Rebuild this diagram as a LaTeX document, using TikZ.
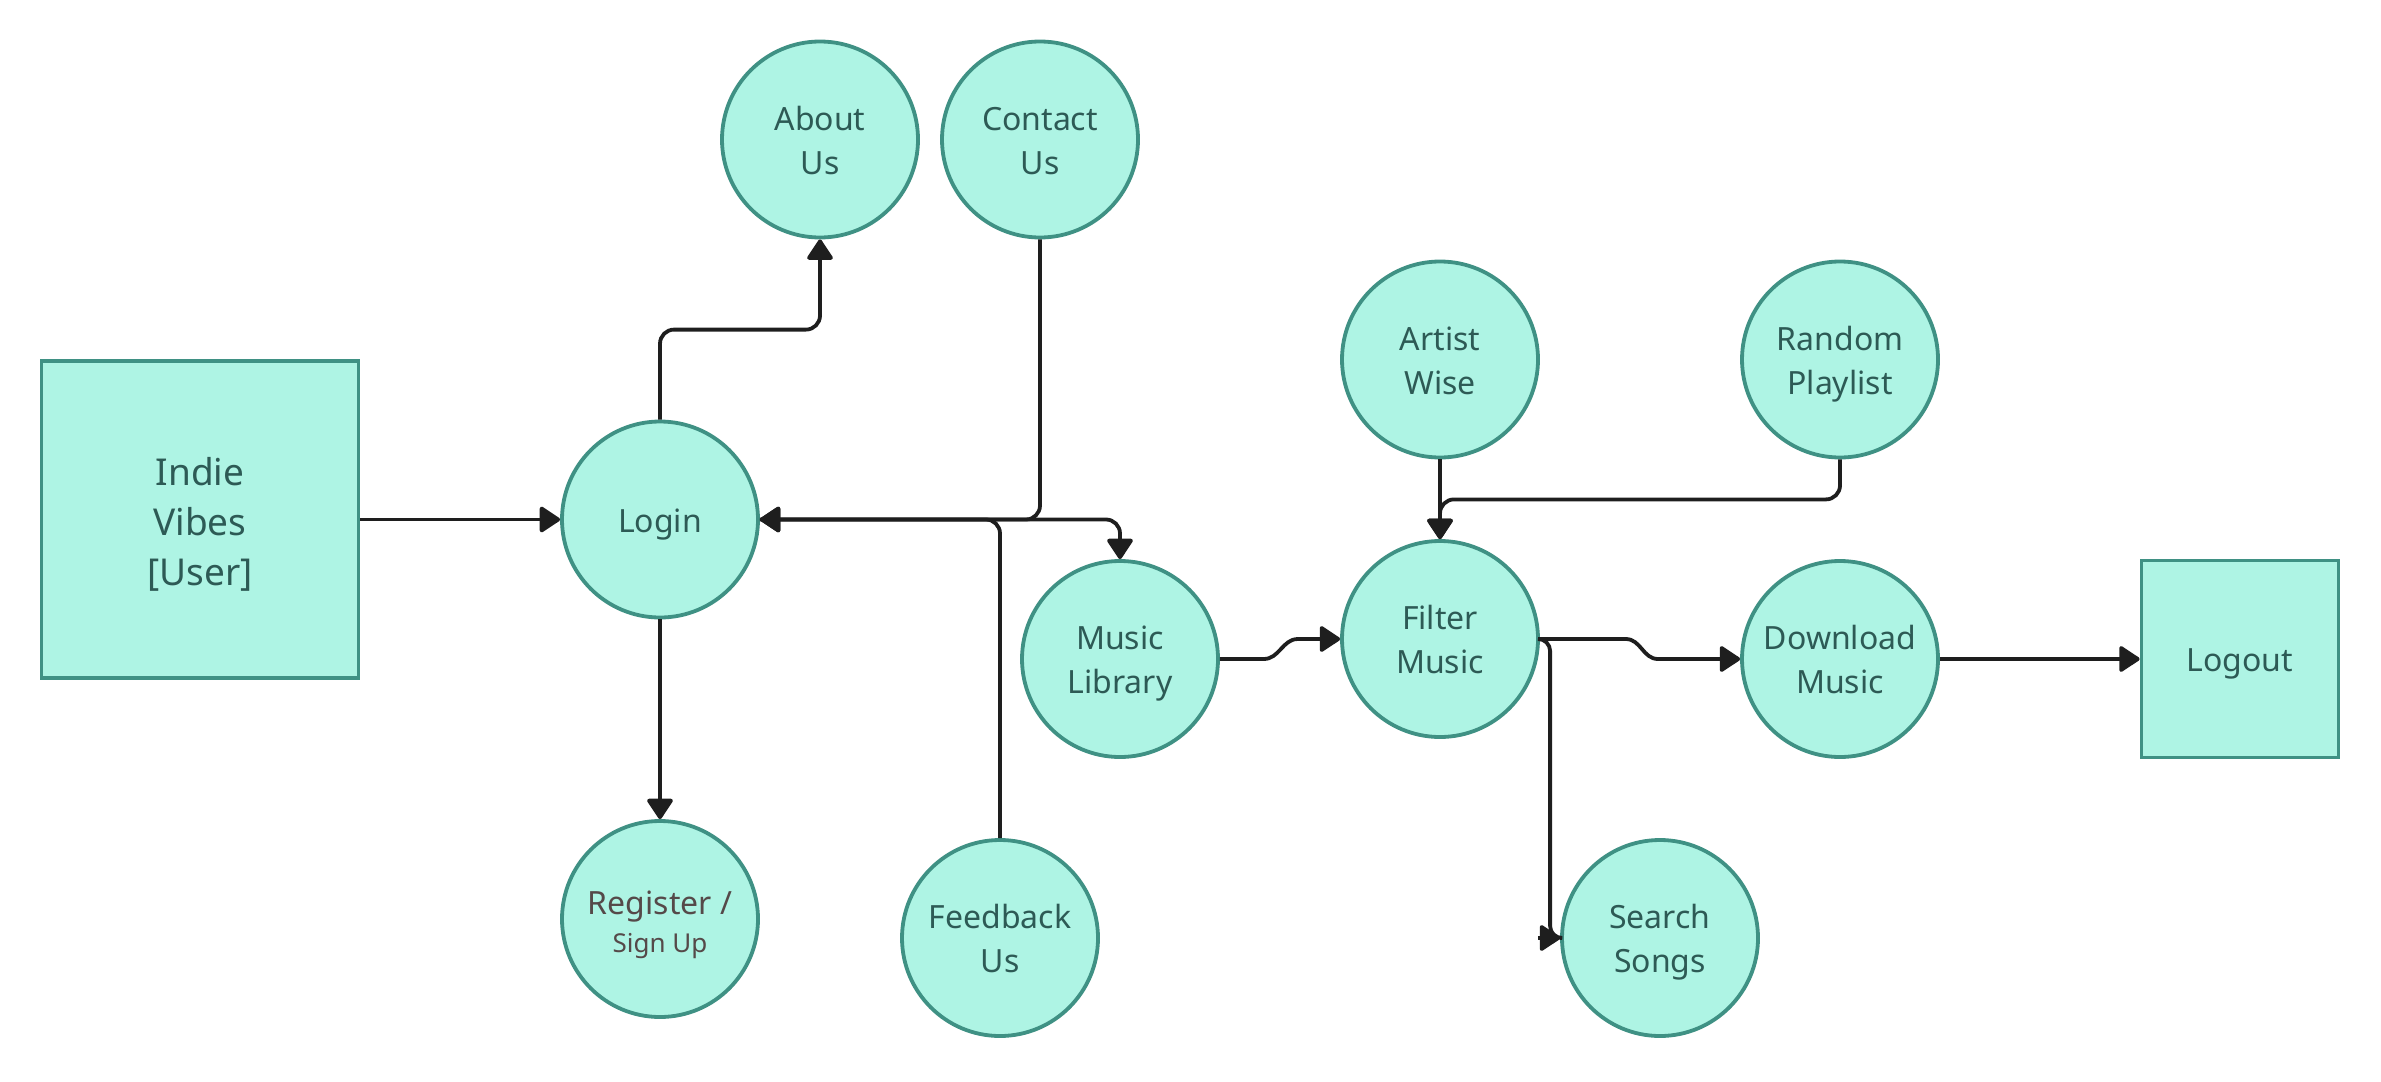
\documentclass[tikz,border=0pt]{standalone}
\usepackage{fontspec}
\setmainfont{Noto Sans}
\usetikzlibrary{arrows.meta,calc}
\definecolor{mint}{HTML}{AEF4E4}
\definecolor{teal}{HTML}{3F9184}
\definecolor{txt}{HTML}{2D5A55}
\definecolor{regtxt}{HTML}{554949}
\definecolor{ink}{HTML}{1E1E1E}
\newcommand\cst{\rule[-9.3pt]{0pt}{44pt}}
\newcommand\bst{\rule[-9pt]{0pt}{50pt}}
\tikzset{
  circ/.style={circle, draw=teal, fill=mint, line width=3.8pt, minimum size=196pt, inner sep=0pt,
    text=txt, align=center, font=\fontsize{32}{44}\selectfont},
  sqbox/.style={rectangle, draw=teal, fill=mint, line width=3.8pt, inner sep=0pt,
    text=txt, align=center},
  conn/.style={draw=ink, line width=3.8pt, rounded corners=14pt,
    -{Triangle[length=22pt,width=28pt,round]}},
  sconn/.style={draw=ink, line width=3.8pt, sharp corners,
    -{Triangle[length=22pt,width=28pt,round]}},
  wire/.style={draw=ink, line width=3.8pt, rounded corners=12pt},
}
\begin{document}
\begin{tikzpicture}[x=1pt,y=-1pt]
\useasboundingbox (0,0) rectangle (2381,1081);
% nodes
\node[sqbox, minimum width=317pt, minimum height=317pt, font=\fontsize{37}{50}\selectfont] (indie) at (200,519.5) {\bst Indie\\\bst Vibes\\\bst{[User]}};
\node[circ] (login) at (660,519.5) {\cst Login};
\node[circ] (about) at (820,139.5) {\cst About\\\cst Us};
\node[circ] (contact) at (1040,139.5) {\cst Contact\\\cst Us};
\node[circ, text=regtxt] (register) at (660,919) {\cst Register /\\[-6.3pt]{\fontsize{26}{34}\selectfont Sign Up}};
\node[circ] (feedback) at (1000,938) {\cst Feedback\\\cst Us};
\node[circ] (music) at (1120,659) {\cst Music\\\cst Library};
\node[circ] (filter) at (1440,639) {\cst Filter\\\cst Music};
\node[circ] (artist) at (1440,359.5) {\cst Artist\\\cst Wise};
\node[circ] (random) at (1840,359.5) {\cst Random\\\cst Playlist};
\node[circ] (download) at (1840,659) {\cst Download\\\cst Music};
\node[circ] (search) at (1660,938) {\cst Search\\\cst Songs};
\node[sqbox, minimum width=197pt, minimum height=197pt, font=\fontsize{32}{44}\selectfont] (logout) at (2240,659) {\cst Logout};
% connectors
\draw[conn] (indie.east) -- (login.west);
\draw[conn] (login.north) -- ++(0,-90) -| (about.south);
\draw[conn] (login.south) -- (register.north);
\draw[conn] (contact.south) |- (login.east);
\draw[conn] (feedback.north) |- (login.east);
\draw[conn] (login.east) -| (music.north);
\draw[sconn] (music.east) -- ++(44,0) to[out=0,in=180] ++(34,-20) -- (filter.west);
\draw[conn] (artist.south) -- (filter.north);
\draw[conn] (random.south) -- ++(0,40) -| (filter.north);
\draw[sconn] (filter.east) -- ++(86,0) to[out=0,in=180] ++(32,20) -- (download.west);
\draw[wire] (filter.east) -| ([xshift=-10pt]search.west) -- (search.west);
\draw[sconn] ([xshift=-22pt]search.west) -- (search.west);
\draw[conn] (download.east) -- (logout.west);
\end{tikzpicture}
\end{document}
